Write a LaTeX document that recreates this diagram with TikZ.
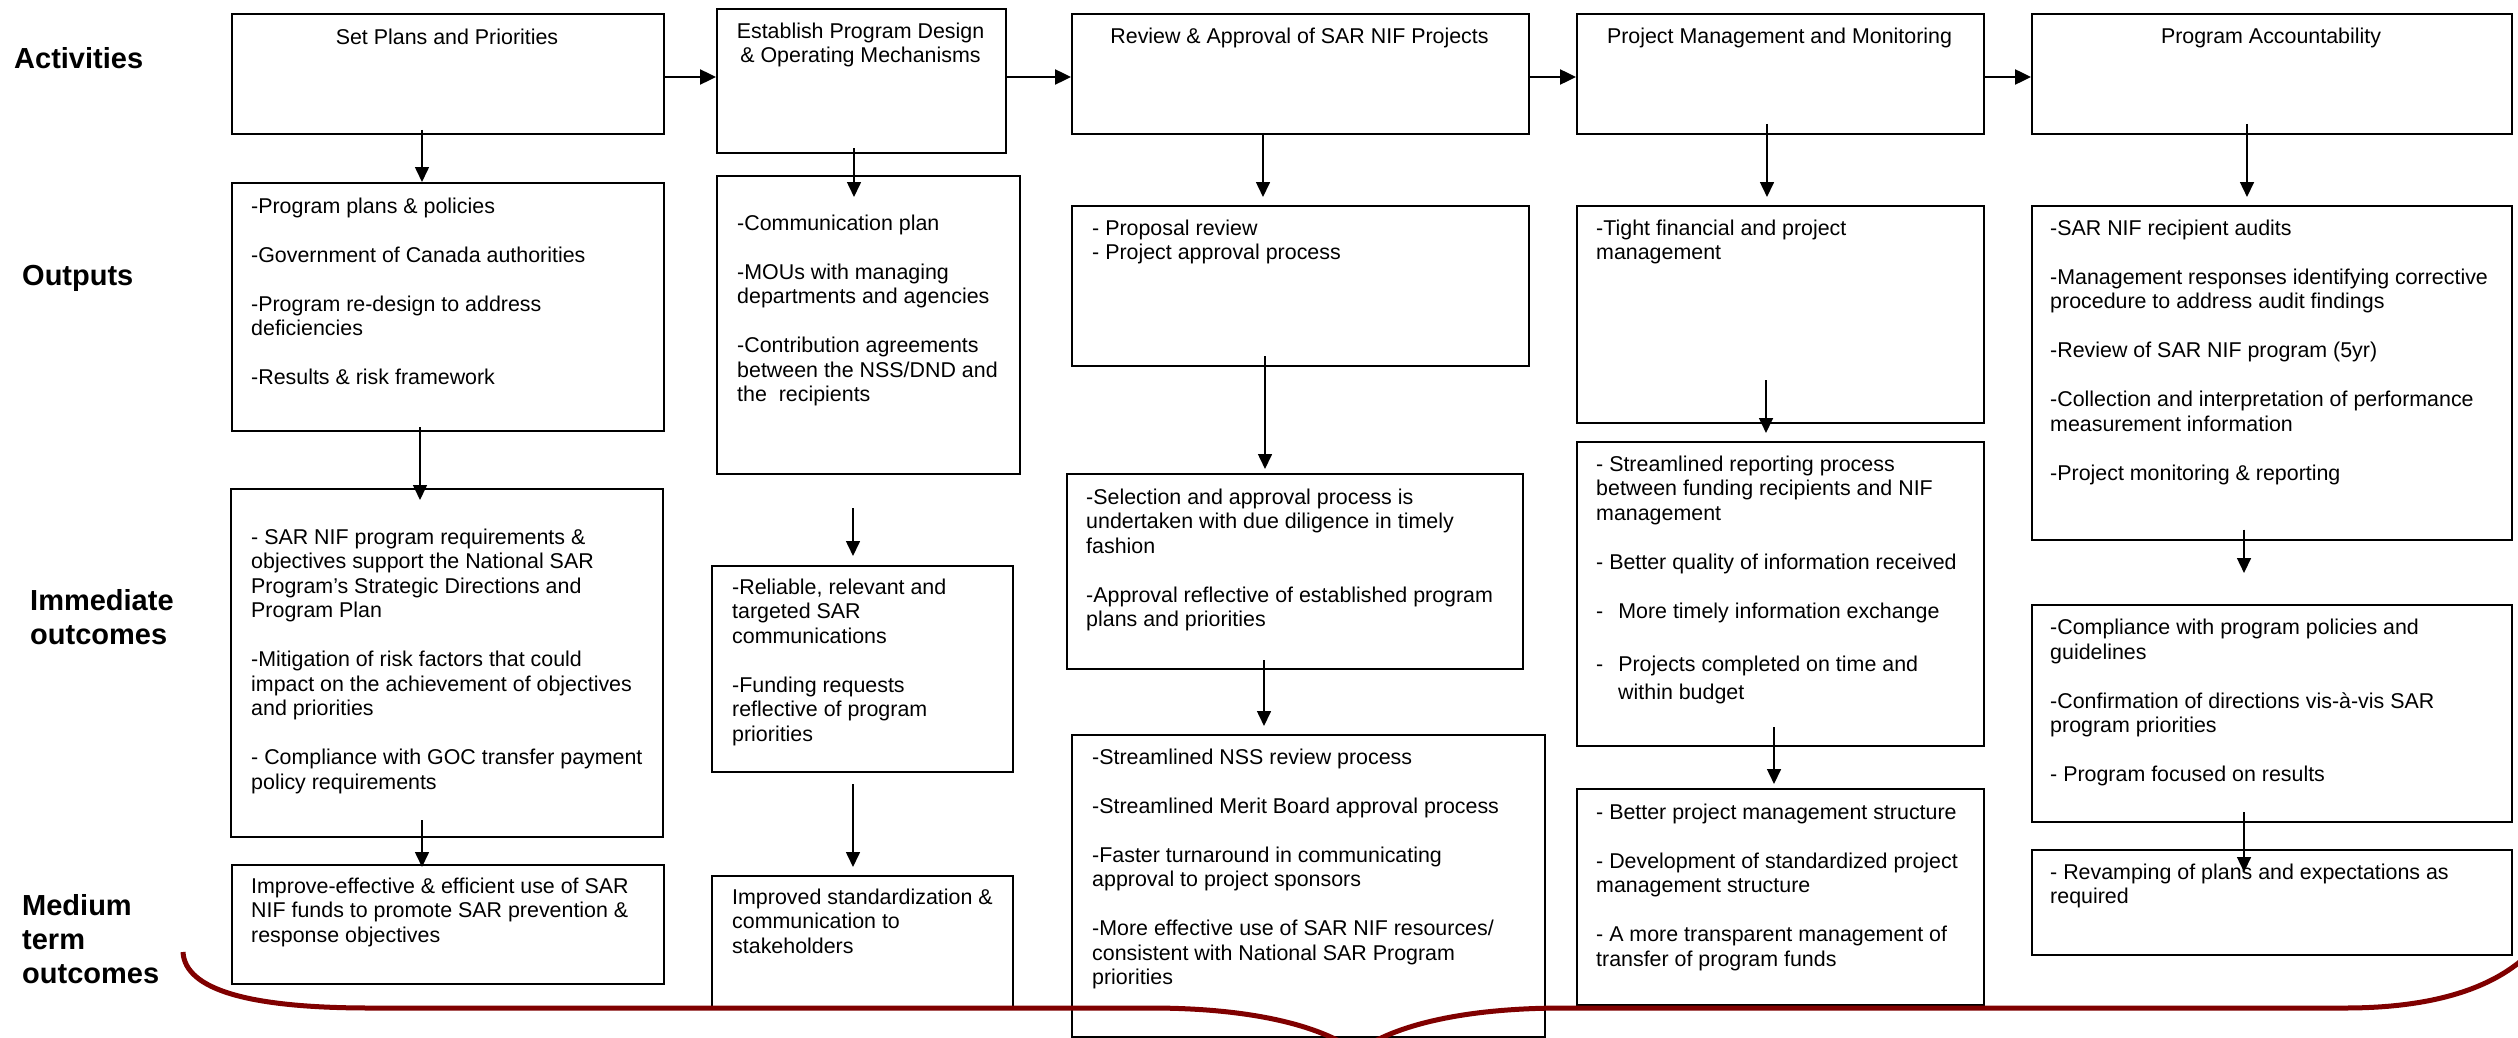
\documentclass[tikz,border=0pt]{standalone}
\usepackage{fontspec}
\setmainfont{Liberation Sans}
\usetikzlibrary{arrows.meta}
\definecolor{bracered}{RGB}{128,0,0}
\begin{document}
\begin{tikzpicture}[x=1pt,y=-1pt,
  bx/.style={draw, line width=2pt, anchor=north west, inner sep=0pt},
  tx/.style={anchor=north west, inner sep=0pt, align=left, font=\fontsize{21.4}{24.5}\selectfont},
  tc/.style={anchor=north, inner sep=0pt, align=center, font=\fontsize{21.4}{24.5}\selectfont},
  lbl/.style={anchor=north west, inner sep=0pt, align=left, font=\bfseries\fontsize{29}{34}\selectfont},
  harr/.style={line width=2.4pt, -{Triangle[length=16pt,width=15pt]}},
  varr/.style={line width=1.6pt, -{Triangle[length=15pt,width=14pt]}},
  bracepath/.style={draw=bracered, line width=5pt}
]
\useasboundingbox (0,0) rectangle (2518,1038);
\clip (0,0) rectangle (2518,1038);
\fill[white] (0,0) rectangle (2518,1038);

% row labels
\node[lbl] (lact) at (14,44.2) {\strut Activities};
\node[lbl] (lout) at (22,261.2) {\strut Outputs};
\node[lbl] (limm) at (30,586.2) {\strut Immediate\\outcomes};
\node[lbl] (lmed) at (22,891.2) {\strut Medium\\term\\outcomes};

% activities
\node[bx, minimum width=432pt, minimum height=120pt] (a1) at (231,13) {};
\node[bx, minimum width=289pt, minimum height=144pt] (a2) at (716,8) {};
\node[bx, minimum width=457pt, minimum height=120pt] (a3) at (1071,13) {};
\node[bx, minimum width=407pt, minimum height=120pt] (a4) at (1576,13) {};
\node[bx, minimum width=480pt, minimum height=120pt] (a5) at (2031,13) {};
\node[tc] (a1t) at (447,26.85) {\strut Set Plans and Priorities};
\node[tc] (a2t) at (860.5,20.85) {\strut Establish Program Design\\\& Operating Mechanisms};
\node[tc] (a3t) at (1299.5,25.85) {\strut Review \& Approval of SAR NIF Projects};
\node[tc] (a4t) at (1779.5,25.85) {\strut Project Management and Monitoring};
\node[tc] (a5t) at (2271,25.85) {\strut Program Accountability};

% outputs
\node[bx, minimum width=432pt, minimum height=248pt] (o1) at (231,182) {};
\node[bx, minimum width=303pt, minimum height=298pt] (o2) at (716,175) {};
\node[bx, minimum width=457pt, minimum height=160pt] (o3) at (1071,205) {};
\node[bx, minimum width=407pt, minimum height=217pt] (o4) at (1576,205) {};
\node[bx, minimum width=480pt, minimum height=334pt] (o5) at (2031,205) {};
\node[tx] (o1t) at (251,195.85) {\strut -Program plans \& policies\\[24.5pt]
-Government of Canada authorities\\[24.5pt]
-Program re-design to address\\
deficiencies\\[24.5pt]
-Results \& risk framework};
\node[tx] (o2t) at (737,212.85) {\strut -Communication plan\\[24.5pt]
-MOUs with managing\\
departments and agencies\\[24.5pt]
-Contribution agreements\\
between the NSS/DND and\\
the\ \ recipients};
\node[tx] (o3t) at (1092,217.85) {\strut - Proposal review\\
- Project approval process};
\node[tx] (o4t) at (1596,217.85) {\strut -Tight financial and project\\
management};
\node[tx] (o5t) at (2050,217.85) {\strut -SAR NIF recipient audits\\[24.5pt]
-Management responses identifying corrective\\
procedure to address audit findings\\[24.5pt]
-Review of SAR NIF program (5yr)\\[24.5pt]
-Collection and interpretation of performance\\
measurement information\\[24.5pt]
-Project monitoring \& reporting};

% immediate outcomes
\node[bx, minimum width=432pt, minimum height=348pt] (i1) at (230,488) {};
\node[bx, minimum width=301pt, minimum height=206pt] (i2) at (711,565) {};
\node[bx, minimum width=456pt, minimum height=195pt] (i3) at (1066,473) {};
\node[bx, minimum width=407pt, minimum height=304pt] (i4) at (1576,441) {};
\node[bx, minimum width=480pt, minimum height=217pt] (i5) at (2031,604) {};
\node[tx] (i1t) at (251,526.85) {\strut - SAR NIF program requirements \&\\
objectives support the National SAR\\
Program’s Strategic Directions and\\
Program Plan\\[24.5pt]
-Mitigation of risk factors that could\\
impact on the achievement of objectives\\
and priorities\\[24.5pt]
- Compliance with GOC transfer payment\\
policy requirements};
\node[tx] (i2t) at (732,576.85) {\strut -Reliable, relevant and\\
targeted SAR\\
communications\\[24.5pt]
-Funding requests\\
reflective of program\\
priorities};
\node[tx] (i3t) at (1086,486.85) {\strut -Selection and approval process is\\
undertaken with due diligence in timely\\
fashion\\[24.5pt]
-Approval reflective of established program\\
plans and priorities};
\node[tx] (i4t) at (1596,453.85) {\strut - Streamlined reporting process\\
between funding recipients and NIF\\
management\\[24.5pt]
- Better quality of information received\\[24.5pt]
-\hspace*{15pt}More timely information exchange\\[29pt]
-\hspace*{15pt}Projects completed on time and\\[3.5pt]
\hspace*{22pt}within budget};
\node[tx] (i5t) at (2050,617.35) {\strut -Compliance with program policies and\\
guidelines\\[24.5pt]
-Confirmation of directions vis-à-vis SAR\\
program priorities\\[24.5pt]
- Program focused on results};

% medium term outcomes
\node[bx, minimum width=432pt, minimum height=119pt] (m1) at (231,864) {};
\node[bx, minimum width=301pt, minimum height=131pt] (m2) at (711,875) {};
\node[bx, minimum width=473pt, minimum height=302pt] (m3) at (1071,734) {};
\node[bx, minimum width=407pt, minimum height=216pt] (m4) at (1576,788) {};
\node[bx, minimum width=480pt, minimum height=105pt] (m5) at (2031,849) {};
\node[tx] (m1t) at (251,875.85) {\strut Improve-effective \& efficient use of SAR\\
NIF funds to promote SAR prevention \&\\
response objectives};
\node[tx] (m2t) at (732,886.85) {\strut Improved standardization \&\\
communication to\\
stakeholders};
\node[tx] (m3t) at (1092,746.85) {\strut -Streamlined NSS review process\\[24.5pt]
-Streamlined Merit Board approval process\\[24.5pt]
-Faster turnaround in communicating\\
approval to project sponsors\\[24.5pt]
-More effective use of SAR NIF resources/\\
consistent with National SAR Program\\
priorities};
\node[tx] (m4t) at (1596,801.85) {\strut - Better project management structure\\[24.5pt]
- Development of standardized project\\
management structure\\[24.5pt]
- A more transparent management of\\
transfer of program funds};
\node[tx] (m5t) at (2050,861.85) {\strut - Revamping of plans and expectations as\\
required};

% horizontal arrows between activities
\coordinate (hy) at (0,77);
\draw[harr] (a1.east |- hy) -- (a2.west |- hy);
\draw[harr] (a2.east |- hy) -- (a3.west |- hy);
\draw[harr] (a3.east |- hy) -- (a4.west |- hy);
\draw[harr] (a4.east |- hy) -- (a5.west |- hy);

% vertical arrow end points
\coordinate (s1) at (422,130);  \coordinate (e1) at (422,182);
\coordinate (s2) at (854,148);  \coordinate (e2) at (854,197);
\coordinate (s3) at (1263,133); \coordinate (e3) at (1263,197);
\coordinate (s4) at (1767,124); \coordinate (e4) at (1767,197);
\coordinate (s5) at (2247,124); \coordinate (e5) at (2247,197);
\coordinate (s6) at (420,427);  \coordinate (e6) at (420,500);
\coordinate (s7) at (853,508);  \coordinate (e7) at (853,556);
\coordinate (s8) at (1265,356); \coordinate (e8) at (1265,469);
\coordinate (s9) at (1766,380); \coordinate (e9) at (1766,433);
\coordinate (s10) at (2244,529.5); \coordinate (e10) at (2244,573);
\coordinate (s11) at (422,820); \coordinate (e11) at (422,867);
\coordinate (s12) at (853,784); \coordinate (e12) at (853,867);
\coordinate (s13) at (1264,660); \coordinate (e13) at (1264,726);
\coordinate (s14) at (1774,727); \coordinate (e14) at (1774,784);
\coordinate (s15) at (2244,812); \coordinate (e15) at (2244,872);
\foreach \k in {1,...,15} {\draw[varr] (s\k) -- (e\k);}

% brace
\draw[bracepath] (183,952) .. controls (185,990) and (250,1008) .. (370,1008)
  -- (1150,1008) .. controls (1250,1008) and (1320,1025) .. (1357,1052)
  .. controls (1394,1025) and (1464,1008) .. (1564,1008)
  -- (2345,1008) .. controls (2440,1008) and (2510,985) .. (2545,935);
\end{tikzpicture}
\end{document}
